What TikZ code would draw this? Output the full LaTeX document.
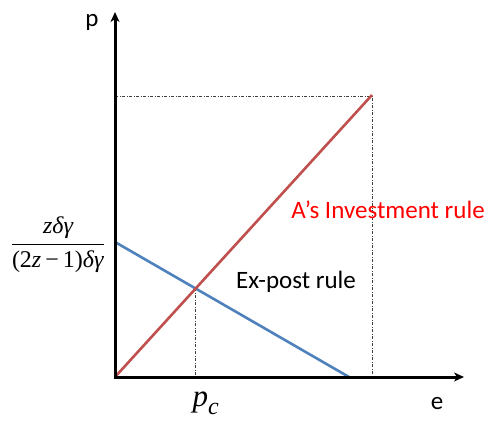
\documentclass[tikz,border=0pt]{standalone}
\usepackage{fontspec}
\setmainfont{Carlito}
\newfontfamily\serifrm{Liberation Serif}
\usetikzlibrary{arrows.meta}
\definecolor{redline}{RGB}{192,80,77}
\definecolor{blueline}{RGB}{79,129,189}
\begin{document}
\begin{tikzpicture}[x=1pt,y=-1pt,
  axis/.style={line width=3pt,-{Stealth[length=10pt,width=9pt,inset=3pt]}},
  guide/.style={line width=0.7pt,black!75,dash pattern=on 3pt off 1.5pt on 1pt off 1.5pt},
  curve/.style={line width=2.6pt},
  lbl/.style={font=\fontsize{25}{29}\selectfont,inner sep=0pt}]
\useasboundingbox (0,0) rectangle (487,423);
\coordinate (O) at (115,377);
\coordinate (Ytop) at (115,12);
\coordinate (Xend) at (464,377);
\coordinate (R) at (372,95);
\coordinate (D) at (115,96);
\coordinate (Dr) at (372,96);
\coordinate (Dx) at (372,377);
\coordinate (B0) at (115,242);
\coordinate (B1) at (349,377);
\coordinate (I) at (195.5,288);
\coordinate (Ix) at (195.5,377);
% guides
\draw[guide] (D) -- (Dr) -- (Dx);
\draw[guide] (I) -- (Ix);
% curves
\draw[curve,blueline] (B0) -- (B1);
\draw[curve,redline] (O) -- (R);
% axes
\draw[axis] (O) -- (Ytop);
\draw[axis] ([xshift=-1.5pt]O) -- (Xend);
% labels
\node[lbl] (plab) at (92,22) {p};
\node[lbl] (elab) at (437,404) {e};
\node[lbl,text=red] (inv) at (388,210) {A’s Investment rule};
\node[lbl] (expost) at (296,282) {Ex-post rule};
\node[inner sep=0pt] (frac) at (58,245) {\fontsize{24}{28}\selectfont$\displaystyle\frac{\hbox{\serifrm\itshape zδγ}}{\hbox{\serifrm(2\textit{z}\,−\,1)\textit{δγ}}}$};
\node[inner sep=0pt] (pc) at (206,403) {\fontsize{31}{34}\selectfont$\hbox{\serifrm\itshape p}_{\hbox{\serifrm\itshape\fontsize{24}{26}\selectfont c}}$};
\end{tikzpicture}
\end{document}
